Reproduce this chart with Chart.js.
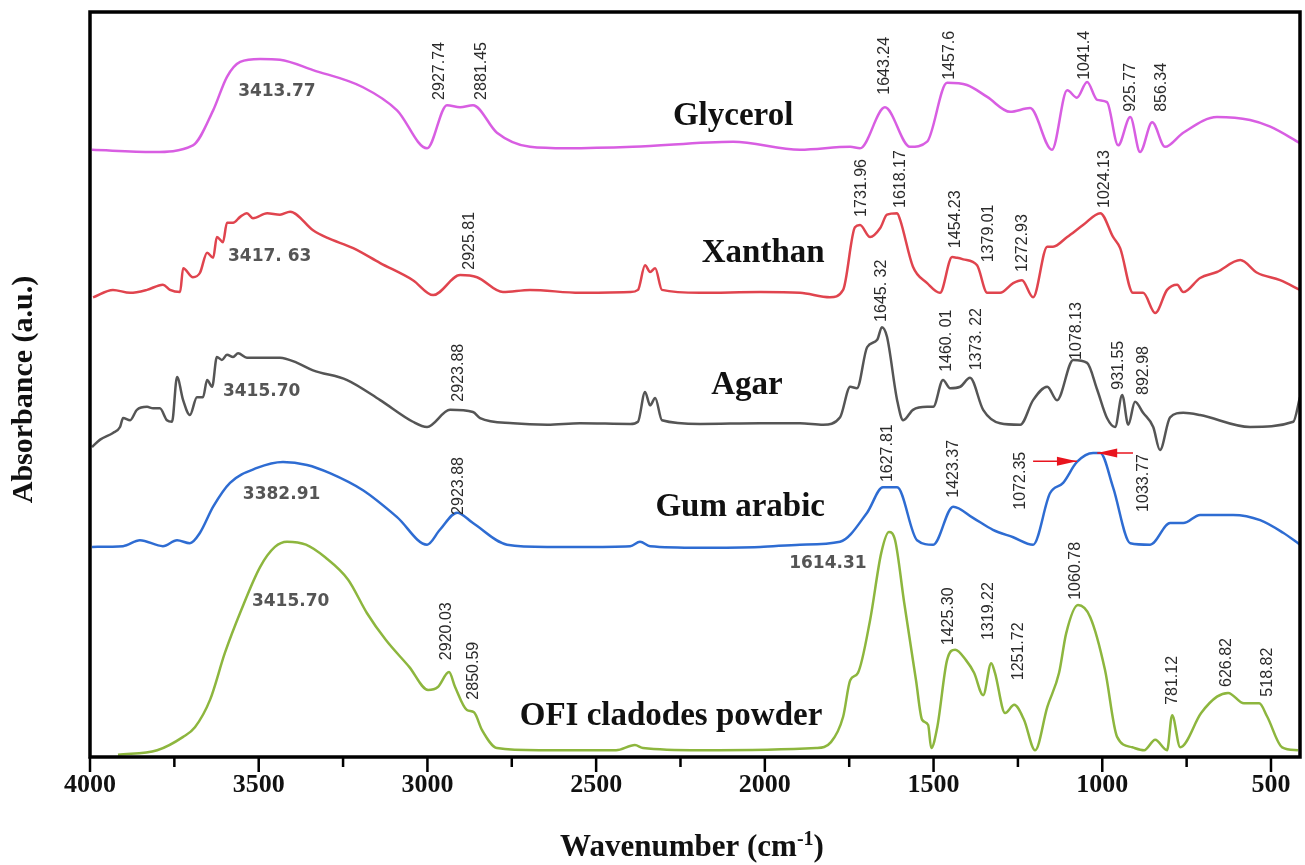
<!DOCTYPE html>
<html>
<head>
<meta charset="utf-8">
<script src="https://cdn.jsdelivr.net/npm/chart.js@4.4.1/dist/chart.umd.min.js"></script>
<style>
  html, body { margin: 0; padding: 0; background: #fff; }
  #wrap { width: 1305px; height: 865px; }
</style>
</head>
<body>
<div id="wrap"><canvas id="ftir" width="1305" height="865"></canvas></div>
<script>
// espectros FTIR (numero de onda em cm-1, absorbancia com deslocamento)
var glycerolWn = [3994, 3813, 3695, 3635, 3594, 3555, 3496, 3437, 3339, 3191, 3090, 3001, 2942, 2903, 2865, 2794, 2696, 2586, 2391, 2094, 1896, 1747, 1718, 1644, 1570, 1519, 1460, 1401, 1341, 1273, 1214, 1149, 1104, 1075, 1045, 1015, 986, 953, 917, 888, 852, 814, 760, 660, 562, 502, 414];
var glycerolAbs = [8.15, 8.12, 8.21, 8.68, 9.13, 9.33, 9.37, 9.36, 9.22, 8.99, 8.68, 8.17, 8.75, 8.72, 8.75, 8.38, 8.19, 8.17, 8.19, 8.26, 8.15, 8.19, 8.17, 8.72, 8.19, 8.26, 9.05, 9.02, 8.86, 8.66, 8.71, 8.15, 8.95, 8.85, 9.06, 8.82, 8.79, 8.21, 8.59, 8.12, 8.52, 8.19, 8.38, 8.59, 8.55, 8.46, 8.24];

var xanthanWn = [3991, 3932, 3881, 3831, 3784, 3763, 3733, 3724, 3695, 3674, 3653, 3635, 3624, 3606, 3594, 3576, 3555, 3535, 3517, 3475, 3437, 3407, 3339, 3298, 3220, 3140, 3043, 2983, 2903, 2853, 2776, 2696, 2548, 2399, 2376, 2355, 2340, 2325, 2305, 2192, 2014, 1896, 1807, 1768, 1733, 1718, 1688, 1658, 1638, 1608, 1599, 1561, 1519, 1481, 1445, 1430, 1412, 1371, 1341, 1303, 1264, 1238, 1205, 1163, 1146, 1104, 1057, 1006, 968, 947, 909, 879, 843, 808, 778, 760, 710, 660, 591, 541, 473, 414];
var xanthanAbs = [6.17, 6.27, 6.23, 6.27, 6.34, 6.27, 6.24, 6.56, 6.44, 6.50, 6.77, 6.70, 6.98, 6.91, 7.17, 7.17, 7.25, 7.30, 7.23, 7.30, 7.28, 7.32, 7.07, 6.97, 6.83, 6.63, 6.40, 6.20, 6.47, 6.44, 6.24, 6.27, 6.23, 6.24, 6.27, 6.60, 6.51, 6.56, 6.27, 6.23, 6.24, 6.23, 6.17, 6.27, 7.11, 7.14, 6.98, 7.10, 7.28, 7.30, 7.21, 6.58, 6.36, 6.23, 6.71, 6.70, 6.68, 6.60, 6.23, 6.23, 6.36, 6.40, 6.17, 6.85, 6.85, 6.98, 7.14, 7.30, 6.98, 6.83, 6.23, 6.23, 5.96, 6.27, 6.34, 6.24, 6.43, 6.51, 6.67, 6.50, 6.40, 6.27];

var agarWn = [3994, 3970, 3932, 3911, 3902, 3881, 3861, 3831, 3813, 3793, 3772, 3757, 3742, 3724, 3704, 3683, 3665, 3653, 3638, 3624, 3609, 3594, 3576, 3561, 3535, 3437, 3386, 3339, 3238, 3140, 3043, 3001, 2933, 2865, 2844, 2746, 2645, 2548, 2399, 2376, 2355, 2340, 2325, 2305, 2192, 2014, 1896, 1827, 1777, 1747, 1727, 1697, 1667, 1653, 1638, 1608, 1590, 1561, 1519, 1501, 1472, 1451, 1421, 1392, 1353, 1303, 1243, 1205, 1163, 1134, 1086, 1045, 1015, 986, 962, 941, 923, 903, 879, 849, 829, 799, 760, 710, 562, 434, 414];
var agarAbs = [4.16, 4.26, 4.35, 4.43, 4.55, 4.52, 4.66, 4.70, 4.68, 4.68, 4.52, 4.50, 5.10, 4.79, 4.59, 4.83, 4.83, 5.06, 4.97, 5.37, 5.33, 5.40, 5.37, 5.42, 5.36, 5.36, 5.29, 5.19, 5.06, 4.79, 4.50, 4.43, 4.66, 4.63, 4.55, 4.48, 4.46, 4.48, 4.47, 4.50, 4.90, 4.72, 4.82, 4.52, 4.47, 4.48, 4.48, 4.46, 4.56, 4.97, 4.95, 5.50, 5.60, 5.77, 5.64, 4.79, 4.52, 4.66, 4.70, 4.70, 5.06, 4.95, 4.97, 5.09, 4.66, 4.48, 4.46, 4.79, 4.97, 4.79, 5.33, 5.29, 4.93, 4.55, 4.43, 4.86, 4.46, 4.77, 4.62, 4.43, 4.12, 4.56, 4.62, 4.59, 4.43, 4.50, 4.83];

var gumWn = [3994, 3902, 3852, 3784, 3742, 3704, 3674, 3635, 3585, 3505, 3428, 3357, 3289, 3191, 3090, 3001, 2963, 2912, 2865, 2764, 2645, 2548, 2399, 2370, 2340, 2192, 2014, 1896, 1777, 1697, 1650, 1608, 1549, 1501, 1442, 1383, 1324, 1264, 1205, 1155, 1116, 1075, 1027, 1006, 968, 917, 858, 799, 760, 710, 612, 532, 464, 414];
var gumAbs = [2.82, 2.83, 2.91, 2.83, 2.91, 2.87, 3.01, 3.36, 3.68, 3.88, 3.96, 3.92, 3.81, 3.58, 3.22, 2.85, 3.05, 3.28, 3.14, 2.85, 2.82, 2.82, 2.83, 2.89, 2.83, 2.81, 2.82, 2.85, 2.89, 3.28, 3.62, 3.62, 2.91, 2.85, 3.36, 3.21, 3.05, 2.95, 2.85, 3.54, 3.68, 3.96, 4.08, 4.08, 3.62, 2.87, 2.85, 3.14, 3.14, 3.25, 3.25, 3.18, 3.01, 2.85];

var ofiWn = [3917, 3801, 3724, 3689, 3644, 3600, 3552, 3496, 3452, 3416, 3360, 3303, 3235, 3179, 3123, 3054, 2998, 2969, 2936, 2918, 2883, 2862, 2838, 2794, 2669, 2441, 2385, 2361, 2192, 1848, 1804, 1768, 1747, 1724, 1688, 1655, 1632, 1614, 1587, 1552, 1534, 1516, 1507, 1489, 1460, 1436, 1404, 1380, 1353, 1329, 1318, 1288, 1261, 1232, 1199, 1163, 1128, 1107, 1072, 1036, 992, 956, 911, 876, 843, 808, 793, 769, 707, 660, 627, 580, 535, 511, 467, 420];
var ofiAbs = [0.03, 0.09, 0.27, 0.40, 0.77, 1.40, 1.97, 2.55, 2.82, 2.89, 2.85, 2.68, 2.38, 1.93, 1.57, 1.21, 0.90, 0.94, 1.14, 0.94, 0.63, 0.60, 0.36, 0.12, 0.09, 0.09, 0.16, 0.12, 0.09, 0.12, 0.20, 0.54, 1.03, 1.13, 1.84, 2.74, 3.02, 2.91, 2.07, 1.03, 0.50, 0.43, 0.12, 0.40, 1.30, 1.44, 1.30, 1.13, 0.83, 1.26, 1.13, 0.59, 0.70, 0.50, 0.09, 0.67, 1.13, 1.66, 2.04, 1.88, 1.17, 0.27, 0.13, 0.09, 0.23, 0.09, 0.56, 0.13, 0.59, 0.81, 0.86, 0.72, 0.72, 0.54, 0.13, 0.09];

var nomes = ['Glycerol', 'Xanthan', 'Agar', 'Gum arabic', 'OFI cladodes powder'];
var nomesWn = [2094, 2005, 2053, 2073, 2278];
var nomesAbs = [8.48, 6.64, 4.87, 3.23, 0.43];
var cores = ['#d85ee2', '#e0444e', '#555555', '#2e6cd2', '#8db63e'];

var ticksMaiores = [4000, 3500, 3000, 2500, 2000, 1500, 1000, 500];
var ticksMenores = [3750, 3250, 2750, 2250, 1750, 1250, 750];

// rotulos dos picos: [texto, numero de onda, absorbancia]
var picosVerticais = [
  ['2927.74', 2963, 8.82], ['2881.45', 2838, 8.82], ['1643.24', 1644, 8.89], ['1457.6', 1451, 9.09],
  ['1041.4', 1051, 9.09], ['925.77', 915, 8.66], ['856.34', 823, 8.66],
  ['2925.81', 2874, 6.54], ['1731.96', 1712, 7.25], ['1618.17', 1599, 7.37], ['1454.23', 1436, 6.83],
  ['1379.01', 1338, 6.64], ['1272.93', 1235, 6.51], ['1024.13', 992, 7.37],
  ['2923.88', 2909, 4.77], ['1645. 32', 1653, 5.84], ['1460. 01', 1460, 5.17], ['1373. 22', 1371, 5.19],
  ['1078.13', 1075, 5.33], ['931.55', 953, 4.93], ['892.98', 879, 4.86],
  ['2923.88', 2909, 3.25], ['1627.81', 1635, 3.69], ['1423.37', 1442, 3.48], ['1072.35', 1243, 3.32],
  ['1033.77', 879, 3.29],
  ['2920.03', 2942, 1.30], ['2850.59', 2862, 0.77], ['1425.30', 1454, 1.50], ['1319.22', 1338, 1.57],
  ['1251.72', 1249, 1.03], ['1060.78', 1078, 2.11], ['781.12', 793, 0.70], ['626.82', 633, 0.94],
  ['518.82', 511, 0.81]
];
var picosHorizontais = [
  ['3413.77', 3561, 8.93], ['3417. 63', 3591, 6.72], ['3415.70', 3606, 4.90],
  ['3382.91', 3547, 3.52], ['3415.70', 3520, 2.09], ['1614.31', 1928, 2.59]
];
// setas vermelhas da goma arabica: [de, ate, absorbancia]
var setas = [[1205, 1075, 3.97], [909, 1015, 4.08]];

function monta(wn, abs) {
  return wn.map(function(w, i) { return { x: w, y: abs[i] }; });
}

var series = [
  monta(glycerolWn, glycerolAbs),
  monta(xanthanWn, xanthanAbs),
  monta(agarWn, agarAbs),
  monta(gumWn, gumAbs),
  monta(ofiWn, ofiAbs)
];

var decoracao = {
  id: 'decoracao',
  afterDatasetsDraw: function(chart) {
    var ctx = chart.ctx, a = chart.chartArea;
    var sx = chart.scales.x, sy = chart.scales.y;
    ctx.save();

    // nomes das amostras
    ctx.fillStyle = '#111';
    ctx.font = 'bold 33px "Liberation Serif"';
    ctx.textAlign = 'center';
    ctx.textBaseline = 'alphabetic';
    nomes.forEach(function(n, i) {
      ctx.fillText(n, sx.getPixelForValue(nomesWn[i]), sy.getPixelForValue(nomesAbs[i]));
    });

    // rotulos horizontais
    ctx.fillStyle = '#555';
    ctx.font = 'bold 17px "DejaVu Sans"';
    ctx.textAlign = 'left';
    ctx.textBaseline = 'middle';
    picosHorizontais.forEach(function(p) {
      ctx.fillText(p[0], sx.getPixelForValue(p[1]), sy.getPixelForValue(p[2]));
    });

    // rotulos verticais
    ctx.fillStyle = '#2a2a2a';
    ctx.font = '16px "Liberation Sans"';
    picosVerticais.forEach(function(p) {
      ctx.save();
      ctx.translate(sx.getPixelForValue(p[1]), sy.getPixelForValue(p[2]));
      ctx.rotate(-Math.PI / 2);
      ctx.fillText(p[0], 0, 0);
      ctx.restore();
    });

    // setas
    ctx.strokeStyle = '#e8141e';
    ctx.fillStyle = '#e8141e';
    ctx.lineWidth = 1.5;
    setas.forEach(function(s) {
      var x1 = sx.getPixelForValue(s[0]), x2 = sx.getPixelForValue(s[1]), y = sy.getPixelForValue(s[2]);
      var dir = x2 > x1 ? 1 : -1;
      ctx.beginPath();
      ctx.moveTo(x1, y);
      ctx.lineTo(x2, y);
      ctx.stroke();
      ctx.beginPath();
      ctx.moveTo(x2, y);
      ctx.lineTo(x2 - dir * 20, y - 4.5);
      ctx.lineTo(x2 - dir * 20, y + 4.5);
      ctx.closePath();
      ctx.fill();
    });

    // moldura
    ctx.strokeStyle = '#000';
    ctx.lineWidth = 3.5;
    ctx.strokeRect(a.left, a.top, a.right - a.left, a.bottom - a.top);

    // marcas do eixo x
    ctx.lineWidth = 2.5;
    ctx.beginPath();
    ticksMaiores.forEach(function(t) {
      var x = sx.getPixelForValue(t);
      ctx.moveTo(x, a.bottom);
      ctx.lineTo(x, a.bottom + 15);
    });
    ticksMenores.forEach(function(t) {
      var x = sx.getPixelForValue(t);
      ctx.moveTo(x, a.bottom);
      ctx.lineTo(x, a.bottom + 10);
    });
    ctx.stroke();

    // titulo do eixo x com expoente
    ctx.fillStyle = '#111';
    ctx.textBaseline = 'alphabetic';
    ctx.textAlign = 'left';
    var f1 = 'bold 31px "Liberation Serif"', f2 = 'bold 20px "Liberation Serif"';
    var t1 = 'Wavenumber (cm', t2 = '-1', t3 = ')';
    ctx.font = f1; var w1 = ctx.measureText(t1).width, w3 = ctx.measureText(t3).width;
    ctx.font = f2; var w2 = ctx.measureText(t2).width;
    var cx = (a.left + a.right) / 2 - 3, x0 = cx - (w1 + w2 + w3) / 2, yb = 856;
    ctx.font = f1; ctx.fillText(t1, x0, yb);
    ctx.font = f2; ctx.fillText(t2, x0 + w1, yb - 11);
    ctx.font = f1; ctx.fillText(t3, x0 + w1 + w2, yb);

    // titulo do eixo y
    ctx.save();
    ctx.translate(24, (a.top + a.bottom) / 2 + 5);
    ctx.rotate(-Math.PI / 2);
    ctx.textAlign = 'center';
    ctx.textBaseline = 'middle';
    ctx.font = 'bold 30px "Liberation Serif"';
    ctx.fillText('Absorbance (a.u.)', 0, 0);
    ctx.restore();

    ctx.restore();
  }
};

var ctx = document.getElementById('ftir').getContext('2d');
var chart = new Chart(ctx, {
    type: 'line',
    data: {
        datasets: series.map(function(s, i) {
            return {
                label: nomes[i],
                data: s,
                borderColor: cores[i],
                backgroundColor: 'transparent',
                borderWidth: 2.5,
                pointRadius: 0,
                cubicInterpolationMode: 'monotone',
                fill: false
            };
        })
    },
    options: {
        responsive: false,
        animation: false,
        devicePixelRatio: 1,
        layout: { padding: { left: 90, right: 5, top: 12, bottom: 0 } },
        plugins: {
            legend: { display: false },
            tooltip: { enabled: false }
        },
        scales: {
            x: {
                type: 'linear',
                reverse: true,
                min: 414,
                max: 4000,
                border: { display: false },
                grid: { display: false, drawTicks: false },
                afterBuildTicks: function(scale) {
                    scale.ticks = ticksMaiores.map(function(v) { return { value: v }; });
                },
                afterFit: function(scale) { scale.height = 108; },
                ticks: {
                    padding: 13,
                    color: '#111',
                    maxRotation: 0,
                    font: { family: 'Liberation Serif', size: 26, weight: 'bold' },
                    callback: function(v) { return String(v); }
                }
            },
            y: {
                display: false,
                min: 0,
                max: 10
            }
        }
    },
    plugins: [decoracao]
});
</script>
</body>
</html>
